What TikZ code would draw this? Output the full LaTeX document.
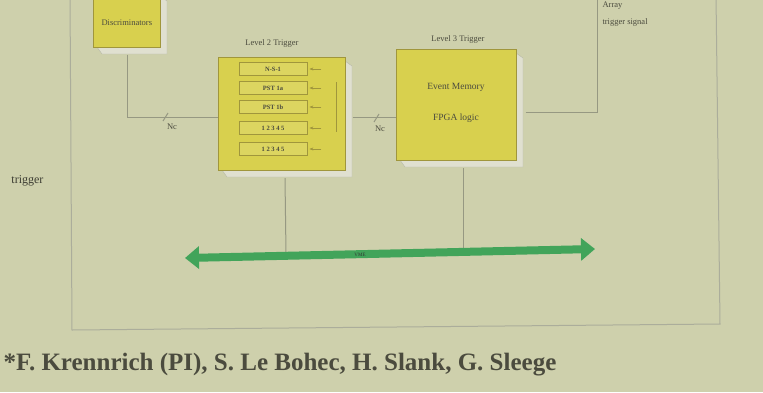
\documentclass[tikz,border=0pt]{standalone}
\usepackage{fontspec}
\setmainfont{Liberation Serif}
\usetikzlibrary{arrows.meta}
\definecolor{bg}{RGB}{206,208,172}
\definecolor{boxy}{RGB}{216,208,78}
\definecolor{boxedge}{RGB}{160,150,60}
\definecolor{shad}{RGB}{224,224,208}
\definecolor{wire}{RGB}{150,152,130}
\definecolor{grn}{RGB}{66,164,90}
\definecolor{txt}{RGB}{75,75,62}
\tikzset{
  ybox/.style={fill=boxy, draw=boxedge, line width=0.6pt, inner sep=0pt},
  wireline/.style={draw=wire, line width=1pt},
  frameline/.style={draw=wire!80, line width=1pt},
  small/.style={font=\fontsize{8.5}{10}\selectfont, text=txt},
  mid/.style={font=\fontsize{9.5}{11}\selectfont, text=txt},
  row/.style={draw=boxedge, line width=0.8pt, fill=boxy!90!white, minimum width=68pt, minimum height=13pt, inner sep=0pt, font=\bfseries\fontsize{6.5}{7}\selectfont, text=txt},
}
\newcommand{\shadowbox}[5]{% name, x1, y1, x2, y2
  \fill[shad, draw=wire!70] (#2+4,#5) -- (#4,#5) -- (#4,#3+4) -- (#4+7,#3+9) -- (#4+7,#5+7) -- (#2+9,#5+7) -- cycle;
  \node[ybox, minimum width=#4-#2, minimum height=#5-#3, anchor=north west] (#1) at (#2,#3) {};
}
\begin{document}
\begin{tikzpicture}[x=1pt,y=-1pt]
\useasboundingbox (0,0) rectangle (763,392);
\fill[bg] (0,0) rectangle (763,392);
% outer frame
\coordinate (ftl) at (70,-5);
\coordinate (fbl) at (72,330);
\coordinate (fbr) at (720,324);
\coordinate (ftr) at (716,-5);
\draw[frameline] (ftl) -- (fbl) -- (fbr) -- (ftr);
% boxes
\shadowbox{disc}{93}{-8}{160}{47}
\node[small] at ([yshift=-3pt]disc.center) {Discriminators};
\shadowbox{ltwo}{218}{57}{345}{170}
\node[small] (ltwolab) at (272,43) {Level 2 Trigger};
\shadowbox{lthree}{396}{49}{516}{160}
\node[small] (lthreelab) at (458,39) {Level 3 Trigger};
\node[mid] (em) at (456,87) {Event Memory};
\node[mid] (fpga) at (456,118) {FPGA logic};
% rows in level 2
\node[row] (r1) at (273,69) {N-S-1};
\node[row] (r2) at (273,88) {PST 1a};
\node[row] (r3) at (273,107) {PST 1b};
\node[row] (r4) at (273,128) {1 2 3 4 5};
\node[row] (r5) at (273,149) {1 2 3 4 5};
\foreach \r in {r1,r2,r3,r4,r5}{
  \draw[draw=boxedge, line width=0.6pt, -{Stealth[length=4pt]}] ([xshift=14pt]\r.east) -- ([xshift=2pt]\r.east);
}
\coordinate (bt) at (336,82);
\coordinate (bb) at (336,132);
\draw[draw=boxedge, line width=1pt] (bt) -- (bb);
% wires
\coordinate (c1) at (127,117);
\draw[wireline] (disc.south -| c1) ++(0,7) -- (c1) -- (c1 -| ltwo.west);
\draw[wireline] (163,121) -- (168,113);
\node[small] (n1) at (172,127) {Nc};
\draw[wireline] (ltwo.east |- 0,117) ++(7,0) -- (lthree.west |- 0,117);
\draw[wireline] (374,122) -- (379,114);
\node[small] (n2) at (380,129) {Nc};
\coordinate (c2) at (597,112);
\coordinate (c3) at (597,-5);
\draw[wireline] (lthree.east |- c2) ++(9,0) -- (c2) -- (c3);
\node[small, anchor=west] (sig1) at (599,6) {Array};
\node[small, anchor=west] (sig2) at (599,22) {trigger signal};
% left text
\node[font=\fontsize{12}{13}\selectfont, text=txt!80!black, anchor=east] (lt) at (47,181) {trigger};
% bus
\coordinate (bl) at (185,258);
\coordinate (br) at (595,249);
\draw[wireline] (285,178) -- (286,254);
\draw[wireline] (463,168) -- (463,250);
\draw[grn, line width=8pt, {Triangle[width=22pt,length=14pt]}-{Triangle[width=22pt,length=14pt]}] (bl) -- (br);
\node[font=\fontsize{5}{6}\selectfont, text=black!80] (vme) at (360,255) {VME};
% authors
\node[anchor=west, font=\bfseries\fontsize{25}{29}\selectfont, text=txt] (auth) at (0,365) {*F. Krennrich (PI), S. Le Bohec, H. Slank, G. Sleege};
\end{tikzpicture}
\end{document}
